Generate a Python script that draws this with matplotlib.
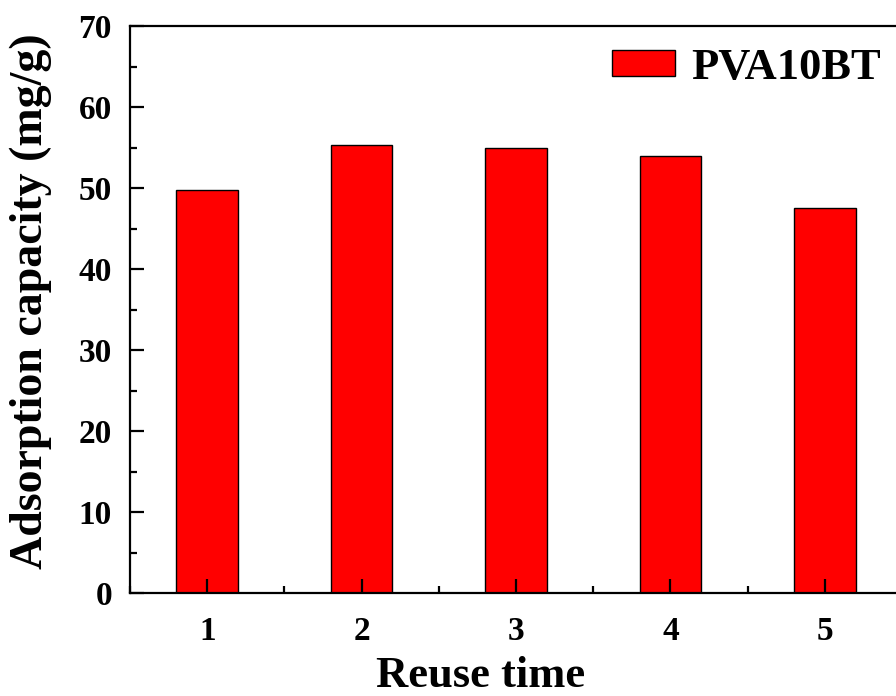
import matplotlib
matplotlib.use("Agg")
import matplotlib.pyplot as plt
from matplotlib.ticker import MultipleLocator

reuse = [1, 2, 3, 4, 5]
capacity = [49.8, 55.3, 55.0, 54.0, 47.5]
series_name = "PVA10BT"

plt.rcParams['font.family'] = ['Liberation Serif', 'DejaVu Serif']
plt.rcParams['font.weight'] = 'bold'

fig = plt.figure(figsize=(8.96, 6.96), dpi=100)
ax = fig.add_axes([130/896, (696-593.3)/696, 772/896, 567.3/696])
ax.set_axisbelow(False)

ax.bar(reuse, capacity, width=0.4, color='#ff0000', edgecolor='black',
       linewidth=1.0, label=series_name, zorder=1)

ax.set_xlim(0.5, 5.5)
ax.set_ylim(0, 70)
ax.xaxis.set_major_locator(MultipleLocator(1))
ax.xaxis.set_minor_locator(MultipleLocator(0.5))
ax.yaxis.set_major_locator(MultipleLocator(10))
ax.yaxis.set_minor_locator(MultipleLocator(5))

for s in ax.spines.values():
    s.set_linewidth(1.6)
    s.set_zorder(3)
ax.tick_params(which='major', direction='in', length=10, width=1.6,
               labelsize=24, top=False, right=False)
ax.tick_params(which='minor', direction='in', length=5, width=1.6,
               top=False, right=False)
ax.tick_params(axis='x', which='major', pad=16)
ax.tick_params(axis='y', which='major', pad=13)
for lab in ax.get_xticklabels() + ax.get_yticklabels():
    lab.set_fontweight('bold')

ax.set_xlabel('Reuse time', fontsize=32, fontweight='bold', va='baseline')
ax.xaxis.set_label_coords((481-130)/772, (593.3-687)/567.3)
ax.set_ylabel('Adsorption capacity (mg/g)', fontsize=33, fontweight='bold', va='center')
ax.yaxis.set_label_coords((31-130)/772, (593.3-301.5)/567.3)

leg = ax.legend(loc='upper left', bbox_to_anchor=(612/896, 1-48/696),
                bbox_transform=fig.transFigure, frameon=False,
                prop={'size': 32, 'weight': 'bold'},
                handlelength=1.42, handleheight=0.52, handletextpad=0.36,
                borderpad=0, borderaxespad=0)

fig.savefig('out.png', dpi=100)
